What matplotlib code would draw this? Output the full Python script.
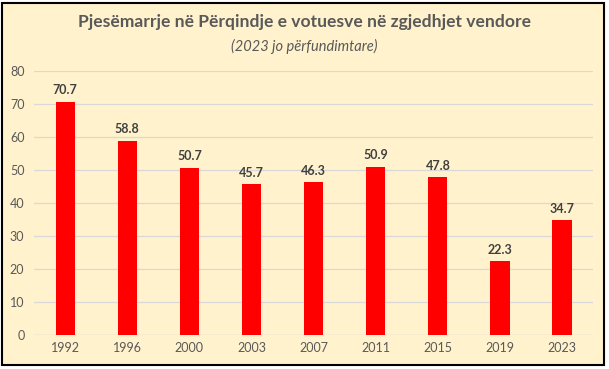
import matplotlib.pyplot as plt
from matplotlib.patches import Rectangle

years = ["1992", "1996", "2000", "2003", "2007", "2011", "2015", "2019", "2023"]
turnout = [70.7, 58.8, 50.7, 45.7, 46.3, 50.9, 47.8, 22.3, 34.7]
yticks = [0, 10, 20, 30, 40, 50, 60, 70, 80]

plt.rcParams['font.family'] = ['Lato', 'DejaVu Sans']

bg = '#FFF2CC'
fig = plt.figure(figsize=(6.09, 3.69), dpi=100, facecolor='white')
fig.patches.append(Rectangle((0.004, 0.01), 0.988, 0.982, transform=fig.transFigure,
                             facecolor=bg, edgecolor='black', linewidth=1.5, zorder=-5))

ax = fig.add_axes([0.056, 0.092, 0.918, 0.716])
ax.set_facecolor('none')
x = range(len(years))
bars = ax.bar(x, turnout, width=0.31, color='#FF0000', zorder=3)
ax.bar_label(bars, labels=[f"{v:.1f}" for v in turnout], padding=4,
             fontsize=9, fontweight='bold', color='#404040')

ax.set_xlim(-0.5, len(years) - 0.5)
ax.set_ylim(0, 80)
ax.set_yticks(yticks)
ax.set_xticks(list(x), years)
ax.grid(axis='y', color='#D9D9D9', linewidth=0.9, zorder=0)
ax.tick_params(length=0, labelsize=9, colors='#595959', pad=5)
ax.tick_params(axis='y', pad=7)
for s in ax.spines.values():
    s.set_visible(False)
ax.axhline(0, color='#D9D9D9', linewidth=0.9, zorder=2)

fig.text(0.5, 0.94, "Pjesëmarrje në Përqindje e votuesve në zgjedhjet vendore",
         ha='center', va='center', fontsize=12.6, fontweight='bold', color='#595959')
fig.text(0.5, 0.875, "(2023 jo përfundimtare)", ha='center', va='center',
         fontsize=10.5, style='italic', color='#595959')

fig.savefig('out.png', dpi=100, facecolor='white')
